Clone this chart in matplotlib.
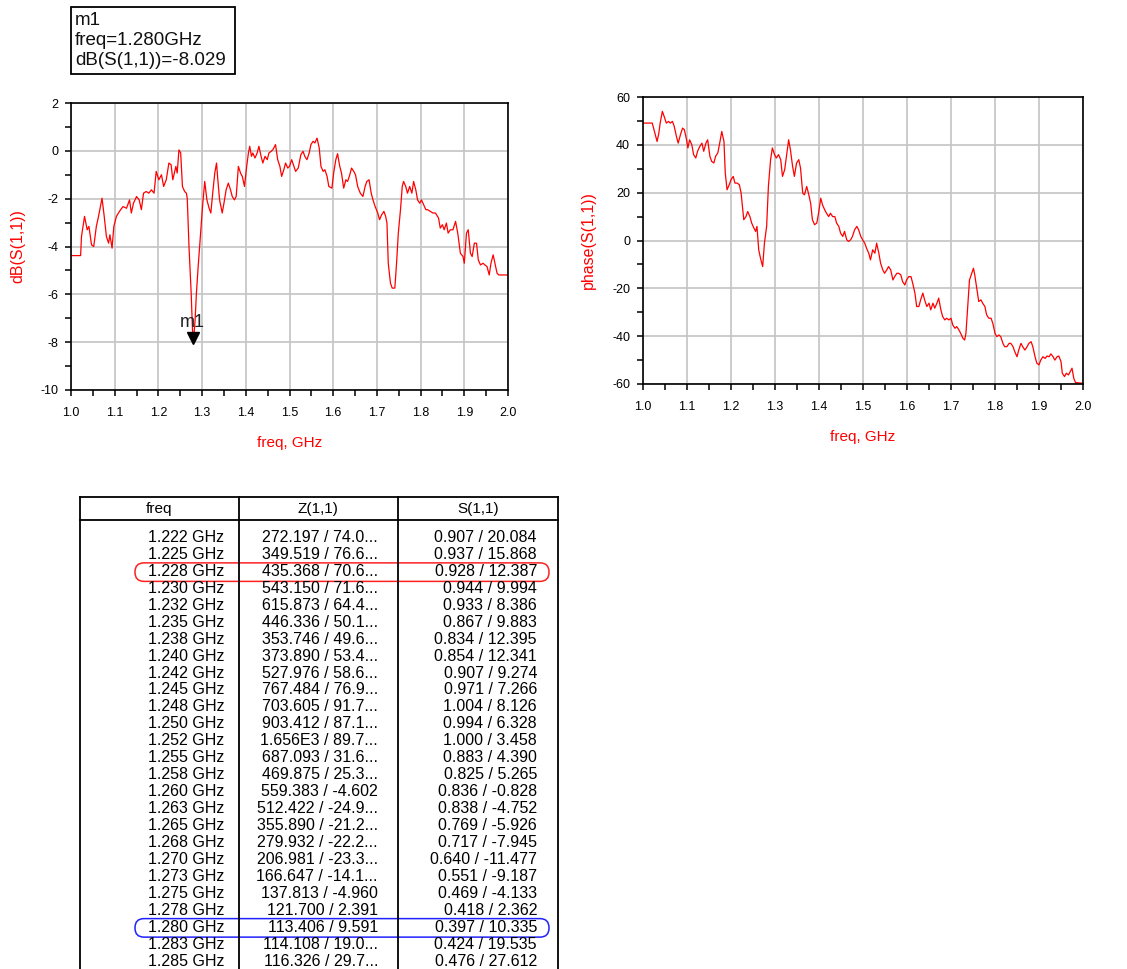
import matplotlib
matplotlib.use("Agg")
import matplotlib.pyplot as plt
from matplotlib.ticker import MultipleLocator, FormatStrFormatter
from matplotlib.patches import Rectangle, FancyBboxPatch
from matplotlib.transforms import offset_copy

plt.rcParams['font.family'] = ['Liberation Sans', 'DejaVu Sans']
plt.rcParams['axes.unicode_minus'] = False

# ---- dB(S(1,1)) trace ----
db_freq = [
    1.000, 1.022, 1.024, 1.031, 1.037, 1.041, 1.047, 1.052, 1.058, 1.063,
    1.071, 1.076, 1.081, 1.086, 1.089, 1.094, 1.098, 1.104, 1.111, 1.119,
    1.127, 1.134, 1.138, 1.143, 1.150, 1.156, 1.161, 1.166, 1.172, 1.178,
    1.184, 1.190, 1.195, 1.201, 1.207, 1.212, 1.218, 1.224, 1.229, 1.233,
    1.240, 1.243, 1.247, 1.251, 1.255, 1.260, 1.264, 1.266, 1.270, 1.275,
    1.278, 1.280, 1.284, 1.287, 1.291, 1.297, 1.301, 1.306, 1.311, 1.316,
    1.320, 1.325, 1.329, 1.333, 1.336, 1.340, 1.346, 1.350, 1.355, 1.360,
    1.365, 1.369, 1.374, 1.378, 1.383, 1.388, 1.392, 1.397, 1.402, 1.406,
    1.409, 1.413, 1.416, 1.421, 1.426, 1.430, 1.435, 1.439, 1.444, 1.449,
    1.453, 1.458, 1.462, 1.468, 1.473, 1.478, 1.482, 1.487, 1.491, 1.496,
    1.500, 1.505, 1.510, 1.514, 1.520, 1.526, 1.531, 1.535, 1.540, 1.545,
    1.549, 1.554, 1.558, 1.563, 1.568, 1.572, 1.577, 1.581, 1.586, 1.590,
    1.597, 1.601, 1.606, 1.610, 1.615, 1.619, 1.624, 1.629, 1.633, 1.638,
    1.642, 1.647, 1.651, 1.656, 1.662, 1.668, 1.673, 1.677, 1.682, 1.687,
    1.691, 1.696, 1.702, 1.706, 1.711, 1.716, 1.720, 1.723, 1.726, 1.731,
    1.735, 1.741, 1.745, 1.749, 1.754, 1.758, 1.761, 1.766, 1.770, 1.775,
    1.780, 1.784, 1.789, 1.793, 1.798, 1.802, 1.807, 1.812, 1.816, 1.822,
    1.828, 1.834, 1.841, 1.845, 1.850, 1.854, 1.859, 1.863, 1.868, 1.874,
    1.880, 1.885, 1.891, 1.897, 1.900, 1.905, 1.909, 1.914, 1.918, 1.923,
    1.928, 1.932, 1.937, 1.943, 1.947, 1.952, 1.957, 1.961, 1.966, 1.970,
    1.975, 1.979, 2.000,
]
db_s11 = [
    -4.38, -4.38, -3.58, -2.74, -3.30, -3.16, -3.93, -4.00, -3.16, -2.74,
    -1.98, -2.74, -3.58, -3.86, -3.51, -4.07, -3.16, -2.74, -2.53, -2.33,
    -2.40, -2.05, -2.60, -2.19, -1.91, -2.05, -2.46, -1.77, -1.70, -1.77,
    -1.63, -1.77, -0.86, -1.21, -1.00, -1.49, -1.21, -0.51, -0.58, -1.21,
    -0.65, -0.93, 0.04, -0.09, -1.49, -1.70, -1.77, -1.98, -4.00, -5.95,
    -7.49, -8.029, -7.07, -5.95, -4.84, -3.30, -2.33, -1.28, -2.05, -2.40,
    -2.60, -1.63, -0.93, -0.51, -1.21, -2.05, -2.60, -2.19, -1.63, -1.35,
    -1.63, -1.91, -2.05, -1.91, -0.65, -0.93, -1.07, -1.49, -0.65, -0.09,
    0.19, -0.23, -0.09, -0.30, -0.09, 0.19, -0.23, -0.51, -0.23, -0.37,
    -0.09, -0.02, 0.05, 0.26, -0.37, -0.65, -1.07, -0.79, -0.51, -0.72,
    -0.65, -0.37, -0.65, -0.86, -0.72, -0.16, -0.02, -0.23, -0.37, -0.09,
    0.26, 0.40, 0.33, 0.53, 0.12, -0.65, -0.86, -0.79, -1.07, -1.49,
    -1.56, -0.93, -0.37, -0.12, -0.65, -0.93, -1.56, -1.21, -1.28, -1.00,
    -0.72, -0.86, -1.00, -1.49, -1.77, -1.91, -1.49, -1.28, -1.21, -1.77,
    -2.05, -2.33, -2.60, -2.88, -2.67, -2.53, -2.74, -3.02, -4.70, -5.53,
    -5.74, -5.74, -4.70, -3.44, -2.46, -1.49, -1.28, -1.49, -1.77, -1.49,
    -1.77, -1.28, -1.63, -2.05, -2.19, -2.05, -2.26, -2.46, -2.46, -2.53,
    -2.60, -2.60, -2.81, -3.23, -3.09, -3.30, -3.02, -3.44, -3.30, -3.30,
    -2.95, -3.44, -4.28, -4.42, -4.70, -3.44, -3.30, -4.28, -4.42, -3.86,
    -3.86, -4.56, -4.77, -4.70, -4.77, -4.84, -5.19, -4.70, -4.35, -4.70,
    -5.12, -5.19, -5.19,
]

# ---- phase(S(1,1)) trace ----
ph_freq = [
    1.000, 1.021, 1.027, 1.032, 1.036, 1.039, 1.044, 1.048, 1.053, 1.058,
    1.062, 1.067, 1.071, 1.076, 1.080, 1.085, 1.090, 1.094, 1.099, 1.102,
    1.106, 1.111, 1.115, 1.120, 1.124, 1.129, 1.134, 1.138, 1.143, 1.147,
    1.152, 1.156, 1.161, 1.165, 1.170, 1.175, 1.179, 1.184, 1.187, 1.191,
    1.196, 1.200, 1.205, 1.209, 1.214, 1.219, 1.223, 1.226, 1.229, 1.234,
    1.238, 1.243, 1.247, 1.252, 1.256, 1.259, 1.263, 1.267, 1.272, 1.276,
    1.281, 1.285, 1.290, 1.294, 1.299, 1.303, 1.308, 1.313, 1.317, 1.322,
    1.326, 1.331, 1.335, 1.340, 1.344, 1.349, 1.354, 1.358, 1.363, 1.367,
    1.372, 1.376, 1.381, 1.385, 1.390, 1.395, 1.399, 1.404, 1.408, 1.413,
    1.417, 1.422, 1.426, 1.431, 1.436, 1.440, 1.445, 1.449, 1.454, 1.458,
    1.463, 1.467, 1.472, 1.476, 1.481, 1.486, 1.490, 1.495, 1.499, 1.504,
    1.508, 1.513, 1.517, 1.522, 1.527, 1.531, 1.536, 1.540, 1.545, 1.549,
    1.554, 1.558, 1.563, 1.568, 1.572, 1.577, 1.581, 1.586, 1.590, 1.595,
    1.599, 1.604, 1.609, 1.613, 1.618, 1.622, 1.627, 1.631, 1.636, 1.640,
    1.645, 1.650, 1.654, 1.659, 1.663, 1.668, 1.672, 1.677, 1.681, 1.686,
    1.690, 1.695, 1.700, 1.704, 1.709, 1.713, 1.718, 1.722, 1.727, 1.731,
    1.734, 1.738, 1.742, 1.747, 1.751, 1.754, 1.759, 1.763, 1.768, 1.772,
    1.777, 1.781, 1.786, 1.791, 1.795, 1.800, 1.804, 1.809, 1.813, 1.818,
    1.822, 1.827, 1.832, 1.836, 1.841, 1.845, 1.850, 1.854, 1.859, 1.863,
    1.868, 1.873, 1.877, 1.882, 1.886, 1.891, 1.895, 1.900, 1.904, 1.909,
    1.914, 1.918, 1.923, 1.927, 1.932, 1.936, 1.941, 1.945, 1.950, 1.953,
    1.958, 1.962, 1.967, 1.971, 1.975, 1.979, 1.983, 2.000,
]
ph_s11 = [
    49.1, 49.1, 44.9, 41.4, 44.9, 49.1, 54.0, 51.9, 49.1, 49.8,
    49.1, 49.8, 47.7, 43.5, 40.7, 44.2, 47.0, 46.3, 42.1, 38.7,
    42.1, 40.0, 35.9, 34.5, 37.3, 39.3, 40.7, 37.3, 40.7, 42.1,
    35.2, 33.1, 32.4, 35.2, 36.6, 41.4, 45.6, 41.4, 28.2, 21.2,
    23.3, 25.4, 26.8, 24.0, 24.0, 23.3, 19.8, 14.2, 8.7, 10.0,
    12.1, 10.0, 7.3, 5.2, 3.8, 5.9, -3.9, -7.4, -10.9, -1.1,
    5.9, 22.6, 33.8, 38.7, 35.9, 34.5, 35.9, 33.8, 26.8, 29.6,
    35.2, 42.1, 38.0, 31.0, 26.8, 32.4, 33.8, 30.3, 19.8, 19.1,
    22.6, 19.8, 15.6, 8.7, 6.6, 7.3, 11.4, 17.7, 14.9, 12.8,
    11.4, 10.0, 11.4, 10.0, 10.0, 7.3, 5.9, 3.1, 1.7, 3.8,
    0.3, -0.4, 0.3, 1.7, 4.5, 5.9, 4.5, 1.7, 0.3, -1.1,
    -3.2, -5.3, -8.1, -3.9, -5.3, -1.1, -5.3, -9.5, -12.3, -13.7,
    -12.3, -10.9, -12.3, -16.5, -15.1, -13.7, -13.7, -14.4, -17.2, -18.6,
    -16.5, -15.1, -15.1, -17.9, -22.0, -27.6, -27.6, -24.8, -22.0, -24.8,
    -27.6, -26.2, -29.0, -26.2, -28.3, -26.2, -24.1, -29.0, -31.8, -33.2,
    -32.5, -33.2, -32.5, -35.3, -36.7, -36.0, -37.4, -38.8, -40.9, -41.6,
    -38.8, -27.6, -16.5, -13.7, -11.6, -14.4, -20.6, -25.5, -24.8, -26.2,
    -27.6, -31.1, -32.5, -32.5, -34.6, -38.8, -40.2, -39.5, -40.2, -43.0,
    -44.4, -44.4, -43.0, -43.0, -44.4, -46.5, -48.6, -45.8, -43.0, -44.4,
    -45.8, -44.4, -43.0, -42.3, -44.4, -48.6, -51.3, -52.0, -50.0, -48.6,
    -49.3, -48.3, -48.6, -47.4, -48.6, -50.0, -48.6, -48.3, -50.6, -55.5,
    -56.9, -55.5, -56.2, -54.8, -53.4, -57.6, -59.4, -59.7,
]

# ---- marker m1 ----
m1_name = "m1"
m1_freq = 1.280
m1_db = -8.029

# ---- listing table ----
table_header = ["freq", "Z(1,1)", "S(1,1)"]
table_freq = [
    "1.222", "1.225", "1.228", "1.230", "1.232", "1.235", "1.238", "1.240",
    "1.242", "1.245", "1.248", "1.250", "1.252", "1.255", "1.258", "1.260",
    "1.263", "1.265", "1.268", "1.270", "1.273", "1.275", "1.278", "1.280",
    "1.283", "1.285",
]
table_z = [
    "272.197 / 74.0...", "349.519 / 76.6...", "435.368 / 70.6...",
    "543.150 / 71.6...", "615.873 / 64.4...", "446.336 / 50.1...",
    "353.746 / 49.6...", "373.890 / 53.4...", "527.976 / 58.6...",
    "767.484 / 76.9...", "703.605 / 91.7...", "903.412 / 87.1...",
    "1.656E3 / 89.7...", "687.093 / 31.6...", "469.875 / 25.3...",
    "559.383 / -4.602", "512.422 / -24.9...", "355.890 / -21.2...",
    "279.932 / -22.2...", "206.981 / -23.3...", "166.647 / -14.1...",
    "137.813 / -4.960", "121.700 / 2.391", "113.406 / 9.591",
    "114.108 / 19.0...", "116.326 / 29.7...",
]
table_s = [
    "0.907 / 20.084", "0.937 / 15.868", "0.928 / 12.387", "0.944 / 9.994",
    "0.933 / 8.386", "0.867 / 9.883", "0.834 / 12.395", "0.854 / 12.341",
    "0.907 / 9.274", "0.971 / 7.266", "1.004 / 8.126", "0.994 / 6.328",
    "1.000 / 3.458", "0.883 / 4.390", "0.825 / 5.265", "0.836 / -0.828",
    "0.838 / -4.752", "0.769 / -5.926", "0.717 / -7.945", "0.640 / -11.477",
    "0.551 / -9.187", "0.469 / -4.133", "0.418 / 2.362", "0.397 / 10.335",
    "0.424 / 19.535", "0.476 / 27.612",
]
highlight_rows = {"1.228": "#ff2020", "1.280": "#2020ff"}

W, H = 1127, 969
fig = plt.figure(figsize=(W / 100, H / 100), dpi=100)
fig.patch.set_facecolor("white")


def px_axes(x0, y0, x1, y1):
    return fig.add_axes([x0 / W, 1 - y1 / H, (x1 - x0) / W, (y1 - y0) / H])


def style_axes(ax, ylo, yhi, ymaj, ymin, ylabel, ylab_x):
    ax.set_xlim(1.0, 2.0)
    ax.set_ylim(ylo, yhi)
    ax.xaxis.set_major_locator(MultipleLocator(0.1))
    ax.xaxis.set_minor_locator(MultipleLocator(0.05))
    ax.yaxis.set_major_locator(MultipleLocator(ymaj))
    ax.yaxis.set_minor_locator(MultipleLocator(ymin))
    ax.xaxis.set_major_formatter(FormatStrFormatter('%.1f'))
    ax.yaxis.set_major_formatter(FormatStrFormatter('%d'))
    ax.grid(True, which='major', color='#c4c4c4', lw=1.2)
    ax.set_axisbelow(True)
    ax.tick_params(which='both', direction='out', length=4.3, width=1.1,
                   color='black', labelsize=9, top=False, right=False)
    ax.tick_params(axis='x', pad=8)
    ax.tick_params(axis='y', pad=5)
    for s in ax.spines.values():
        s.set_linewidth(1.2)
        s.set_color('black')
    ax.set_xlabel('freq, GHz', color='red', fontsize=11, va='center')
    ax.xaxis.set_label_coords(0.5, -0.185)
    ax.set_ylabel(ylabel, color='red', fontsize=11.5, va='center')
    ax.yaxis.set_label_coords(ylab_x, 0.5)


# left: magnitude in dB
ax1 = px_axes(71, 103, 508, 390)
style_axes(ax1, -10, 2, 2, 1, 'dB(S(1,1))', -0.121)
ax1.plot(db_freq, db_s11, color='red', lw=0.9)

tri = offset_copy(ax1.transData, fig=fig, x=0, y=5, units='dots')
ax1.plot([m1_freq], [m1_db], marker='v', ms=9, color='black', transform=tri,
         clip_on=False)
ax1.annotate(m1_name, xy=(m1_freq, m1_db), xytext=(-1, 20),
             textcoords='offset pixels', ha='center', va='center',
             fontsize=13, color='#202020')

# right: phase in degrees
ax2 = px_axes(643, 97, 1083, 384)
style_axes(ax2, -60, 60, 20, 10, 'phase(S(1,1))', -0.125)
ax2.plot(ph_freq, ph_s11, color='red', lw=0.9)

# overlay in pixel units for the readout box and the listing table
ov = fig.add_axes([0, 0, 1, 1])
ov.set_xlim(0, W)
ov.set_ylim(H, 0)
ov.axis('off')

# marker readout box
ov.add_patch(Rectangle((71, 7), 164, 67, fill=False, ec='black', lw=1.3))
readout = [m1_name, f"freq={m1_freq:.3f}GHz", f"dB(S(1,1))={m1_db:.3f}"]
for i, line in enumerate(readout):
    ov.text(75, 20 + 20 * i, line, fontsize=13.5, ha='left', va='center',
            color='#101010')

# listing table
t_left, t_right, t_top, t_head = 79.5, 557.5, 497, 520
col_sep = [239, 398]
ov.plot([t_left, t_right], [t_top, t_top], color='black', lw=1.3)
ov.plot([t_left, t_right], [t_head, t_head], color='black', lw=1.3)
for xs in [t_left, t_right] + col_sep:
    ov.plot([xs, xs], [t_top, H + 5], color='black', lw=1.3)

head_x = [159, 318, 478]
for x, txt in zip(head_x, table_header):
    ov.text(x, 508.5, txt, fontsize=11, ha='center', va='center')

row0, dy = 537.5, 16.94
for i, (f, z, s) in enumerate(zip(table_freq, table_z, table_s)):
    y = row0 + i * dy
    ov.text(224, y, f + " GHz", fontsize=11.5, ha='right', va='center')
    ov.text(378, y, z, fontsize=11.5, ha='right', va='center')
    ov.text(537, y, s, fontsize=11.5, ha='right', va='center')
    if f in highlight_rows:
        ov.add_patch(FancyBboxPatch((135, y - 8.5), 414, 18.5,
                                    boxstyle="round,pad=0,rounding_size=9",
                                    fill=False, ec=highlight_rows[f], lw=1.1))

fig.savefig("out.png", dpi=100)
